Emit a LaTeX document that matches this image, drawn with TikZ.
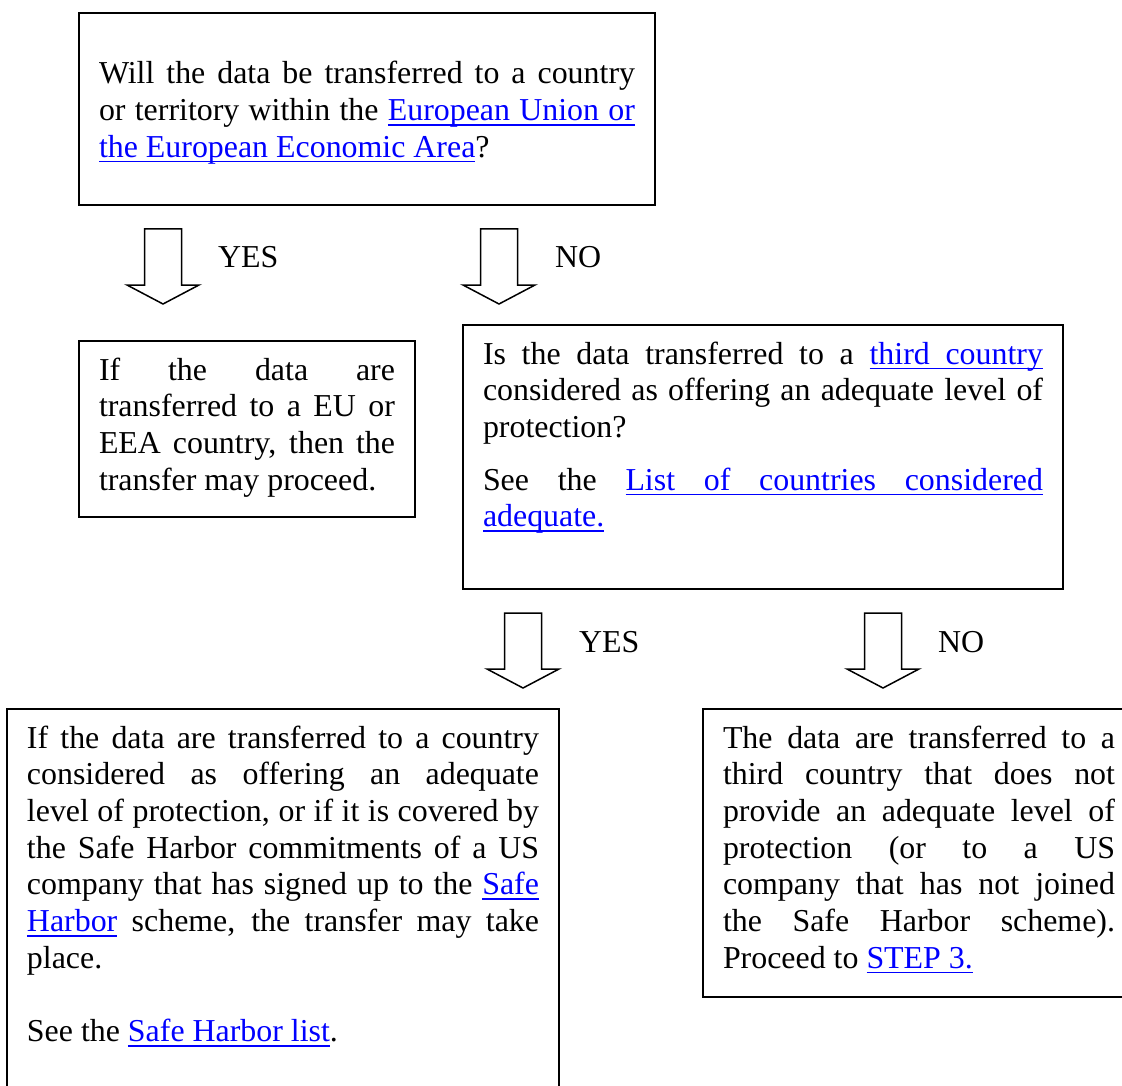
\documentclass[tikz,border=0pt]{standalone}
\usepackage{fontspec}
\setmainfont{Liberation Serif}
\usepackage{xcolor}
\definecolor{linkblue}{RGB}{0,0,255}
\newcommand\ulw[1]{\setbox0\hbox{#1}\rlap{\rule[-5.1pt]{\wd0}{1.6pt}}\box0}
\newcommand\uls{\leaders\vrule height -3.5pt depth 5.1pt\hskip\fontdimen2\font plus\fontdimen3\font minus\fontdimen4\font\relax}
\def\lnkwords#1 #2\relax{\ulw{#1}\if\relax\detokenize{#2}\relax\else\uls\lnkwords#2\relax\fi}
\newcommand\lnk[1]{{\color{linkblue}\lnkwords#1 \relax}}
\newcommand\boxtext[4]{\parbox[c][#2][t]{#1}{\tolerance=10000\hyphenpenalty=10000\rule{0pt}{#3}#4}}
\begin{document}
\begin{tikzpicture}[x=1pt,y=-1pt,
  box/.style={draw=black, line width=1.5pt, inner xsep=20pt, inner ysep=10pt, outer sep=0pt,
    anchor=north west, font=\fontsize{31.9pt}{36.7pt}\selectfont},
  lbl/.style={anchor=base west, inner sep=0pt, font=\fontsize{31.9pt}{36.7pt}\selectfont},
  arrowline/.style={draw=black, fill=white, line width=1.5pt, line join=miter},
  downarrow/.pic={\path[arrowline] (-18.5,-75) -- (-18.5,-19) -- (-36,-19) -- (0,0) -- (36,-19) -- (18.5,-19) -- (18.5,-75) -- cycle;}
]
\useasboundingbox (0,0) rectangle (1122,1086);
\fill[white] (0,0) rectangle (1122,1086);
\clip (0,0) rectangle (1122,1086);

\node[box] (q1) at (79,13) {\boxtext{536pt}{172pt}{61pt}{Will the data be transferred to a country\linebreak or territory within the \lnk{European Union or}\linebreak\lnk{the European Economic Area}?}};

\node[box] (eu) at (79,341) {\boxtext{296pt}{156pt}{29pt}{If the data are\linebreak transferred to a EU or\linebreak EEA country, then the\linebreak transfer may proceed.}};

\node[box] (q2) at (463,325) {\boxtext{560pt}{244pt}{29pt}{Is the data transferred to a \lnk{third country}\linebreak considered as offering an adequate level of\linebreak protection?\par\vspace{16pt}See the \lnk{List of countries considered}\linebreak\lnk{adequate.}}};

\node[box] (ok) at (7,709) {\boxtext{512pt}{371pt}{29pt}{If the data are transferred to a country\linebreak considered as offering an adequate\linebreak level of protection, or if it is covered by\linebreak the Safe Harbor commitments of a US\linebreak company that has signed up to the \lnk{Safe}\linebreak\lnk{Harbor} scheme, the transfer may take\linebreak place.\par\vspace{36.7pt}See the \lnk{Safe Harbor list}.}};

\node[box] (no) at (703,709) {\boxtext{392pt}{268pt}{29pt}{The data are transferred to a\linebreak third country that does not\linebreak provide an adequate level of\linebreak protection (or to a US\linebreak company that has not joined\linebreak the Safe Harbor scheme).\linebreak Proceed to \lnk{STEP 3.}}};

\pic (a1) at (163,304) {downarrow};
\pic (a2) at (499,304) {downarrow};
\pic (a3) at (523,688) {downarrow};
\pic (a4) at (883,688) {downarrow};

\node[lbl] (y1) at (218,268) {YES};
\node[lbl] (n1) at (555,268) {NO};
\node[lbl] (y2) at (579,652) {YES};
\node[lbl] (n2) at (938,652) {NO};
\end{tikzpicture}
\end{document}
